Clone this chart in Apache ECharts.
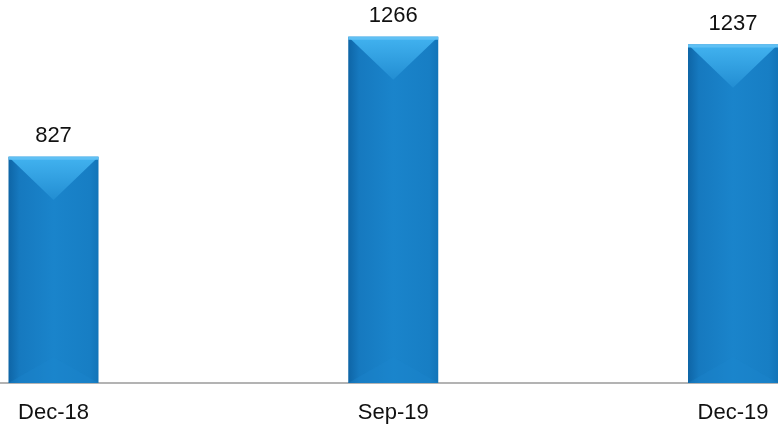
<!DOCTYPE html>
<html>
<head>
<meta charset="utf-8">
<script src="https://cdn.jsdelivr.net/npm/echarts@6/dist/echarts.min.js"></script>
<style>html,body{margin:0;padding:0;background:#fff;}#c{width:778px;height:425px;}</style>
</head>
<body>
<div id="c"></div>
<script>
const categories = ['Dec-18', 'Sep-19', 'Dec-19'];
const values = [827, 1266, 1237];

const chart = echarts.init(document.getElementById('c'));
const BAR_W = 90;

function renderBar(params, api) {
  const x = api.value(0);
  const v = api.value(1);
  const top = api.coord([x, v]);
  const base = api.coord([x, 0]);
  const cx = top[0];
  const x0 = cx - BAR_W / 2, x1 = cx + BAR_W / 2;
  const y0 = top[1], y1 = base[1];
  const d = BAR_W * 0.48;
  return {
    type: 'group',
    children: [
      {
        type: 'rect',
        shape: { x: x0, y: y0, width: BAR_W, height: y1 - y0 },
        style: {
          fill: new echarts.graphic.LinearGradient(0, 0, 1, 0, [
            { offset: 0, color: '#0e65a6' },
            { offset: 0.12, color: '#1679bf' },
            { offset: 0.5, color: '#1a84cb' },
            { offset: 0.9, color: '#177ec4' },
            { offset: 1, color: '#1274b8' }
          ])
        }
      },
      {
        type: 'polygon',
        shape: { points: [[x0, y0], [x1, y0], [cx, y0 + d]] },
        style: {
          fill: new echarts.graphic.LinearGradient(0, 0, 0, 1, [
            { offset: 0, color: '#42b3f0' },
            { offset: 1, color: '#228dd2' }
          ])
        }
      },
      {
        type: 'polygon',
        shape: { points: [[x0, y1], [x1, y1], [cx, y1 - d * 0.6]] },
        style: { fill: 'rgba(30,135,205,0.35)' }
      },
      {
        type: 'rect',
        shape: { x: x0, y: y0, width: BAR_W, height: 3 },
        style: { fill: '#5fc0f4' }
      },
      {
        type: 'text',
        style: {
          text: String(v),
          x: cx, y: y0 - 10,
          align: 'center', verticalAlign: 'bottom',
          fill: '#111', fontSize: 22, fontFamily: 'Liberation Sans, Arial, sans-serif'
        }
      }
    ]
  };
}

chart.setOption({
  animation: false,
  backgroundColor: '#fff',
  grid: [
    { left: 53.5, right: 45, top: 0, bottom: 42, containLabel: false },
    { left: 0, right: 0, top: 0, bottom: 42, containLabel: false }
  ],
  xAxis: [
    {
      type: 'category',
      gridIndex: 0,
      data: categories,
      boundaryGap: false,
      axisLine: { show: false },
      axisTick: { show: false },
      axisLabel: {
        color: '#111', fontSize: 22, margin: 19,
        fontFamily: 'Liberation Sans, Arial, sans-serif'
      }
    },
    {
      type: 'value',
      gridIndex: 1,
      min: 0, max: 1,
      axisLine: { show: true, lineStyle: { color: '#9a9a9a', width: 1.5 } },
      axisTick: { show: false },
      axisLabel: { show: false },
      splitLine: { show: false }
    }
  ],
  yAxis: [
    { type: 'value', gridIndex: 0, min: 0, max: 1400, show: false, splitLine: { show: false } },
    { type: 'value', gridIndex: 1, min: 0, max: 1, show: false, splitLine: { show: false } }
  ],
  series: [{
    type: 'custom',
    xAxisIndex: 0,
    yAxisIndex: 0,
    renderItem: renderBar,
    data: values.map((v, i) => [i, v]),
    clip: false
  }]
});
</script>
</body>
</html>
